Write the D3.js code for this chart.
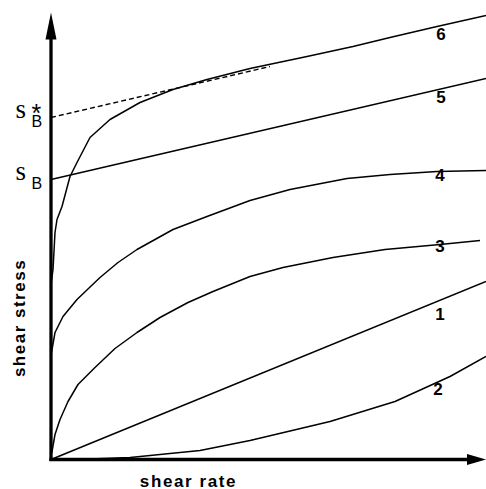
<!DOCTYPE html>
<html>
<head>
<meta charset="utf-8">
<script src="https://cdn.jsdelivr.net/npm/d3@7/dist/d3.min.js"></script>
<style>
  html, body { margin: 0; padding: 0; background: #fff; }
  svg { display: block; }
  text { font-family: Arial, "Liberation Sans", sans-serif; fill: #000; }
</style>
</head>
<body>
<svg id="chart" width="486" height="489"></svg>
<script>
// Curve ids (labels drawn at the right end)
const curveIds = ["1", "2", "3", "4", "5", "6"];

// Values: [shear rate, shear stress] (arbitrary units)
const curve1 = [[0, 0], [435, 178]];
const curve2 = [[0, 0], [39, 0.5], [79, 2], [149, 9], [199, 19], [279, 38], [344, 58], [399, 83], [435, 103]];
const curve3 = [[0, 5], [1, 8], [4, 25], [9, 40], [17, 58], [27, 75], [44, 92], [64, 111], [86, 127], [109, 142],
                [137, 157], [162, 168], [199, 183], [232, 192], [282, 202], [334, 210], [389, 215], [429, 219]];
const curve4 = [[0, 105], [1, 110], [4, 127], [12, 143], [26, 160], [49, 182], [67, 197], [86, 210], [122, 230],
                [156, 243], [199, 259], [239, 270], [296, 281], [339, 285], [386, 288], [435, 289]];
const curve5 = [[0, 280], [435, 381]];
const curve6 = [[0, 175], [2, 190], [4, 227], [6, 240], [11, 253], [19, 283], [26, 297], [39, 322], [59, 340],
                [89, 357], [122, 370], [156, 380], [199, 391], [256, 403], [302, 413], [339, 422], [386, 433], [435, 444]];
// Extrapolated yield stress (dashed tangent to curve 6)
const dashedTangent = [[0, 342], [219, 393]];

// Label positions (value coords of the curve numbers)
const labelX = [389, 387, 389, 389, 390, 390];
const labelY = [140, 65, 208, 279, 357, 420];

// Y-axis markers
const yieldLabels = [
  { name: "sB*", value: 342, star: true },
  { name: "sB", value: 280, star: false }
];

const axisTitleX = "shear rate";
const axisTitleY = "shear stress";

const svg = d3.select("#chart");
const x = d3.scaleLinear().domain([0, 435]).range([51, 486]);
const y = d3.scaleLinear().domain([0, 447]).range([459.5, 12.5]);

const line = d3.line().x(d => x(d[0])).y(d => y(d[1])).curve(d3.curveLinear);

// Axes (no ticks), ending at arrowhead bases
const axisG = svg.append("g");
axisG.append("path")
  .attr("d", d3.line()([[x(0), y(0) + 1.5], [x(0), y(447) + 26]]))
  .attr("stroke", "#000").attr("stroke-width", 3.3).attr("fill", "none");
axisG.append("path")
  .attr("d", d3.line()([[x(0) - 1.6, y(0)], [x(435) - 18, y(0)]]))
  .attr("stroke", "#000").attr("stroke-width", 3.3).attr("fill", "none");
// arrowheads
axisG.append("path")
  .attr("d", d3.line()([[x(0), y(447)], [x(0) - 5.5, y(447) + 27], [x(0) + 5.5, y(447) + 27]]) + "Z")
  .attr("fill", "#000");
axisG.append("path")
  .attr("d", d3.line()([[x(435), y(0)], [x(435) - 19, y(0) - 5.5], [x(435) - 19, y(0) + 5.5]]) + "Z")
  .attr("fill", "#000");

// Curves
const curves = [curve1, curve2, curve3, curve4, curve5, curve6];
const cg = svg.append("g");
curves.forEach(c => {
  cg.append("path").attr("d", line(c))
    .attr("fill", "none").attr("stroke", "#000").attr("stroke-width", 1.5)
    .attr("stroke-linejoin", "round");
});
cg.append("path").attr("d", line(dashedTangent))
  .attr("fill", "none").attr("stroke", "#000").attr("stroke-width", 1.4)
  .attr("stroke-dasharray", "5,3");

// Curve number labels
curveIds.forEach((id, i) => {
  svg.append("text")
    .attr("x", x(labelX[i])).attr("y", y(labelY[i]))
    .attr("text-anchor", "middle")
    .style("font-size", "17px").style("font-weight", "bold")
    .text(id);
});

// Yield stress labels on y axis
yieldLabels.forEach(l => {
  const py = y(l.value);
  const t = svg.append("text").attr("x", 15.5).attr("y", py + 0.5);
  t.append("tspan")
    .style("font-family", "'Liberation Serif', 'Times New Roman', serif")
    .style("font-size", "27px")
    .text("s");
  t.append("tspan").attr("x", 31.5).attr("y", py + 9)
    .style("font-size", "16px")
    .text("B");
  if (l.star) {
    t.append("tspan").attr("x", 31.5).attr("y", py + 4)
      .style("font-size", "25px")
      .text("*");
  }
});

// Axis titles
svg.append("text")
  .attr("x", 188.5).attr("y", 486.5)
  .attr("text-anchor", "middle")
  .style("font-size", "17px").style("font-weight", "bold").style("letter-spacing", "1.6px")
  .text(axisTitleX);
svg.append("text")
  .attr("transform", "translate(25,318) rotate(-90)")
  .attr("text-anchor", "middle")
  .style("font-size", "17px").style("font-weight", "bold").style("letter-spacing", "1.5px")
  .text(axisTitleY);
</script>
</body>
</html>
